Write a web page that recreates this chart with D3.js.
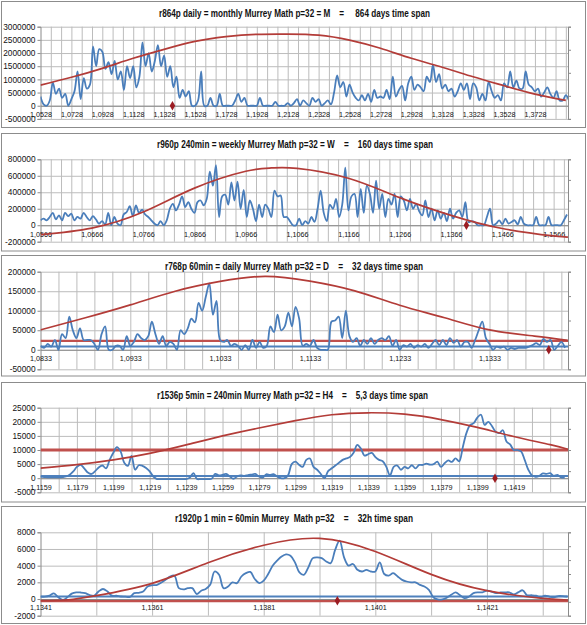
<!DOCTYPE html>
<html>
<head>
<meta charset="utf-8">
<script src="https://cdn.jsdelivr.net/npm/d3@7"></script>
<style>
  body { margin: 0; background: #fff; }
  svg { display: block; }
  text { font-family: "Liberation Sans", Arial, sans-serif; fill: #111; }
</style>
</head>
<body>
<svg id="chart" width="587" height="625"></svg>
<script>
// ---------- panel 1 : r864p daily ----------
const p1Title = "r864p daily = monthly Murrey Math p=32 = M    =     864 days time span";
const p1Start = 1.0528, p1Step = 0.002, p1End = 1.3942;
const p1Volume = [350000, 50000, 0, 200000, 880000, 450000, 650000, 300000, 450000, 0,
  250000, 550000, 1300000, 250000, 1050000, 650000, 800000,
  2250000, 1500000, 2150000, 2050000, 1400000, 1650000, 1200000, 1700000, 1000000, 1300000,
  600000, 1500000, 1050000, 1500000, 700000, 1100000, 2400000, 1500000, 2000000, 1300000, 1700000, 2300000,
  1500000, 1900000, 1100000, 1500000, 700000, 1100000, 300000, 600000, 350000, 550000, 0, 0,
  200000, 1300000, 0, 0, 300000, 0, 0, 450000, 0,
  0, 0, 0, 200000, 450000, 150000, 300000, 0, 0, 0,
  0, 300000, 0, 0, 0, 0, 150000, 0, 0, 0, 100000, 0,
  100000, 250000, 0, 200000, 100000, 0, 300000, 150000, 250000, 0, 100000,
  200000, 50000, 500000, 1150000, 700000, 900000, 350000, 800000, 500000, 300000, 200000, 400000,
  200000, 450000, 150000, 600000, 300000, 350000, 300000, 600000, 250000, 1100000, 350000, 600000,
  750000, 200000, 850000, 1100000, 600000, 800000, 700000, 550000, 1100000, 900000, 1550000, 900000,
  1200000, 650000, 800000, 550000, 650000, 350000, 550000, 850000, 600000, 850000, 250000, 850000,
  700000, 200000, 450000, 200000, 900000, 550000, 300000, 400000, 200000, 850000, 700000, 1300000,
  700000, 950000, 650000, 650000, 1300000, 800000, 700000, 550000, 650000, 350000, 500000, 700000,
  450000, 300000, 550000, 200000, 200000, 400000, 200000];
const p1CurveX = [1.0528, 1.0728, 1.0928, 1.1128, 1.1328, 1.1528, 1.1728, 1.1928, 1.2128,
  1.2328, 1.2528, 1.2728, 1.2928, 1.3128, 1.3328, 1.3528, 1.3728, 1.3928];
const p1CurveY = [780000, 1080000, 1420000, 1800000, 2140000, 2440000, 2620000, 2710000, 2720000,
  2680000, 2490000, 2180000, 1800000, 1460000, 1100000, 760000, 440000, 200000];
const p1YTicks = [-500000, 0, 500000, 1000000, 1500000, 2000000, 2500000, 3000000];
const p1XLabels = ["1,0528", "1,0728", "1,0928", "1,1128", "1,1328", "1,1528", "1,1728", "1,1928", "1,2128",
  "1,2328", "1,2528", "1,2728", "1,2928", "1,3128", "1,3328", "1,3528", "1,3728"];
const p1Mark = [1.1382, 0];

// ---------- panel 2 : r960p 240min ----------
const p2Title = "r960p 240min = weekly Murrey Math p=32 = W    =    160 days time span";
const p2Start = 1.0566, p2Step = 0.0006, p2End = 1.1594;
const p2Volume = [60000, 80000, 60000, 100000, 150000, 70000, 120000, 60000, 150000, 110000,
  140000, 60000, 100000, 80000, 150000, 100000, 60000, 110000, 70000, 20000,
  50000, 10000, 150000, 0, 100000, 20000, 0, 130000, 160000, 230000,
  110000, 240000, 150000, 190000, 130000, 100000, 60000, 20000, 0, 50000,
  0, 60000, 200000, 260000, 180000, 250000, 350000, 220000, 280000, 200000,
  150000, 280000, 300000, 240000, 320000, 650000, 480000, 730000, 100000, 350000,
  370000, 250000, 520000, 300000, 530000, 200000, 430000, 100000, 300000, 200000,
  50000, 250000, 100000, 250000, 200000, 100000, 420000, 350000, 360000, 100000,
  100000, 50000, 0, 0, 80000, 0, 50000, 20000, 100000, 40000,
  200000, 420000, 150000, 50000, 250000, 200000, 320000, 100000, 250000, 700000,
  180000, 350000, 380000, 100000, 440000, 150000, 480000, 380000, 150000, 540000,
  200000, 380000, 100000, 320000, 250000, 380000, 100000, 350000, 300000, 180000,
  320000, 200000, 260000, 170000, 120000, 300000, 100000, 200000, 60000, 180000,
  80000, 150000, 50000, 200000, 80000, 150000, 180000, 100000, 280000, 40000,
  50000, 40000, 0, 0, 0, 100000, 200000, 0, 20000, 60000,
  10000, 80000, 20000, 40000, 60000, 10000, 100000, 20000, 0, 0,
  0, 100000, 0, 0, 0, 100000, 0, 0, 0, 0,
  60000, 130000];
const p2CurveX = [1.0566, 1.0666, 1.0766, 1.0866, 1.0966, 1.1016, 1.1066, 1.1166, 1.1266, 1.1366, 1.1466, 1.1566, 1.1594];
const p2CurveY = [-115000, -35000, 160000, 450000, 655000, 695000, 690000, 570000, 335000, 120000, -40000, -130000, -143000];
const p2YTicks = [-200000, 0, 200000, 400000, 600000, 800000];
const p2XLabels = ["1,0566", "1,0666", "1,0766", "1,0866", "1,0966", "1,1066", "1,1166", "1,1266", "1,1366", "1,1466", "1,1566"];
const p2Mark = [1.1396, 0];

// ---------- panel 3 : r768p 60min ----------
const p3Title = "r768p 60min = daily Murrey Math p=32 = D    =    32 days time span";
const p3Start = 1.0833, p3Step = 0.0004, p3End = 1.14204;
const p3Volume = [10000, 5000, 15000, 8000, 25000, 0, 40000, 30000, 85000, 50000,
  30000, 55000, 25000, 25000, 25000, 15000, 0, 40000, 60000, 0,
  0, 10000, 10000, 0, 35000, 10000, 20000, 40000, 30000, 25000,
  35000, 72000, 40000, 15000, 35000, 10000, 20000, 15000, 0, 50000,
  40000, 55000, 80000, 70000, 120000, 100000, 135000, 170000, 90000, 125000,
  25000, 20000, 25000, 10000, 15000, 10000, 0, 12000, 0, 25000,
  5000, 20000, 5000, 10000, 60000, 45000, 90000, 50000, 60000, 95000,
  60000, 110000, 80000, 10000, 15000, 10000, 25000, 5000, 0, 0,
  0, 72000, 75000, 85000, 30000, 100000, 35000, 20000, 30000, 10000,
  25000, 15000, 30000, 15000, 25000, 30000, 25000, 35000, 10000, 25000,
  0, 12000, 8000, 15000, 5000, 12000, 8000, 15000, 5000, 15000,
  25000, 12000, 25000, 12000, 30000, 18000, 25000, 8000, 20000, 20000,
  5000, 25000, 50000, 72000, 30000, 15000, 0, 8000, 5000, 8000,
  0, 5000, 2000, 5000, 5000, 5000, 8000, 12000, 17000, 12000,
  28000, 20000, 25000, 0, 10000, 20000, 5000];
const p3CurveX = [1.0833, 1.0883, 1.0933, 1.0983, 1.1033, 1.1083, 1.1133, 1.1183, 1.1233, 1.1283, 1.1333, 1.1383, 1.1420];
const p3CurveY = [51000, 82000, 115000, 150000, 175000, 188000, 176000, 151000, 114000, 82000, 51000, 35000, 24000];
const p3RedLevel = 23000, p3BlueLevel = 8500;
const p3YTicks = [-50000, 0, 50000, 100000, 150000, 200000];
const p3XLabels = ["1,0833", "1,0933", "1,1033", "1,1133", "1,1233", "1,1333"];
const p3Mark = [1.1399, 0];

// ---------- panel 4 : r1536p 5min ----------
const p4Title = "r1536p 5min = 240min Murrey Math p=32 = H4    =    5,3 days time span";
const p4Start = 1.1159, p4Step = 0.0002, p4End = 1.14488;
const p4Volume = [500, 400, 300, 300, 300, 300, 400, 600, 1200, 2400,
  4000, 4700, 3500, 2000, 1500, 2500, 3800, 4500, 3500, 6500,
  9000, 11000, 9500, 5500, 4400, 7900, 3000, 4600, 4400, 3600,
  2400, 600, -300, -300, -300, -300, -300, -300, -300, -300,
  -300, 200, 1800, -300, -300, -300, -300, -200, 1500, 1000,
  1200, 1500, 600, -200, 600, 1000, 800, 1100, 1300, 1500,
  600, 200, 1400, 1200, 1400, 600, 0, 0, 1000, 5000,
  5900, 4800, 4000, 6500, 7000, 4000, 3000, 1500, 0, 2500,
  3500, 4500, 5500, 6500, 7000, 7500, 9000, 11800, 10500, 8000,
  8500, 9000, 7500, 6500, 6000, 4000, 1000, 4000, 4500, 3000,
  4000, 3500, 4600, 3500, 4700, 4700, 5200, 4800, 5000, 5900,
  4000, 5300, 6300, 5800, 7000, 6000, 11000, 16000, 18800, 19500,
  21500, 22500, 18900, 20000, 18500, 16500, 16000, 17000, 13000, 12000,
  10000, 10000, 9500, 6500, 3000, 1000, 500, 800, 1700, 1500,
  1800, 800, 1200, 300, 300];
const p4CurveX = [1.1159, 1.1179, 1.1199, 1.1219, 1.1239, 1.1259, 1.1279, 1.1299, 1.1319, 1.1339,
  1.1359, 1.1379, 1.1399, 1.1419, 1.1439, 1.14488];
const p4CurveY = [3550, 4800, 6500, 8800, 11800, 15000, 17800, 20400, 22500, 23200,
  22700, 20800, 18000, 14800, 11900, 10250];
const p4RedLevel = 10000, p4BlueLevel = 800;
const p4YTicks = [-5000, 0, 5000, 10000, 15000, 20000, 25000];
const p4XLabels = ["1,1159", "1,1179", "1,1199", "1,1219", "1,1239", "1,1259", "1,1279",
  "1,1299", "1,1319", "1,1339", "1,1359", "1,1379", "1,1399", "1,1419"];
const p4Mark = [1.14087, 0];

// ---------- panel 5 : r1920p 1 min ----------
const p5Title = "r1920p 1 min = 60min Murrey  Math p=32    =    32h time span";
const p5Start = 1.1341, p5Step = 0.00008, p5End = 1.143553;
const p5Volume = [280, 280, 400, 680, 200, -100, 200, 650, 800, 780,
  700, 480, 400, 900, 1200, 900, 400, 400, 300, 280,
  250, 700, 750, 900, 1500, 1650, 1680, 1950, 2300, 2680,
  2800, 1300, 1150, 1300, 1300, 600, 1000, 1200, 1700, 3300,
  2900, 1300, 1500, 2000, 1900, 2700, 3100, 3250, 2400, 1900,
  2200, 3000, 4000, 4600, 5100, 5360, 5200, 4400, 3200, 2900,
  3800, 4900, 5000, 4900, 4500, 4300, 5900, 7000, 5000, 4000,
  4200, 3500, 3300, 3500, 3300, 3300, 4400, 3000, 2800, 3100,
  2700, 2300, 2100, 2000, 2000, 1700, 1500, 1100, 200, -50,
  -50, 150, 500, 800, 450, 100, 300, 700, 800, 800,
  1000, 900, 700, 800, 800, 800, 550, 800, 1050, 450,
  450, 400, 200, 400, 300, 200, 350, 350, 300];
const p5CurveX = [1.1341, 1.1346, 1.1351, 1.1361, 1.1371, 1.1381, 1.1391, 1.1401, 1.1411, 1.1421, 1.1431, 1.14355];
const p5CurveY = [-200, -100, 400, 1880, 4350, 6450, 7270, 5700, 2950, 1000, 80, -120];
const p5RedLevel = -250, p5BlueLevel = 300;
const p5YTicks = [-2000, 0, 2000, 4000, 6000, 8000];
const p5XLabels = ["1,1341", "1,1361", "1,1381", "1,1401", "1,1421"];
const p5Mark = [1.13942, -200];

// ---------- layout ----------
const BLUE = "#4a7ebb", RED = "#b33c38", LEVEL_RED = "#c0504d", LEVEL_BLUE = "#4f81bd";
const GRID = "#bcbcbc", AXIS = "#8a8a8a";
const left = 40.5, right = 568;

const panels = [
  { title: p1Title, titleX: 294.5, titleY: 17, titleW: 271, frame: [1, 127],
    start: p1Start, step: p1Step, end: p1End, volume: p1Volume, curveX: p1CurveX, curveY: p1CurveY,
    yTicks: p1YTicks, yRange: [118.9, 26.7], xLabels: p1XLabels, gridStep: 0.02 / 3,
    levels: [], mark: p1Mark, y2Count: 4 },
  { title: p2Title, titleX: 295, titleY: 148, titleW: 276, frame: [133, 250.5],
    start: p2Start, step: p2Step, end: p2End, volume: p2Volume, curveX: p2CurveX, curveY: p2CurveY,
    yTicks: p2YTicks, yRange: [241.7, 159.3], xLabels: p2XLabels, gridStep: 0.002,
    levels: [], mark: p2Mark, y2Count: 4 },
  { title: p3Title, titleX: 294, titleY: 270, titleW: 258, frame: [255, 375.5],
    start: p3Start, step: p3Step, end: p3End, volume: p3Volume, curveX: p3CurveX, curveY: p3CurveY,
    yTicks: p3YTicks, yRange: [369.3, 271.7], xLabels: p3XLabels, gridStep: 0.002,
    levels: [{ v: p3BlueLevel, c: LEVEL_BLUE, w: 2 }, { v: p3RedLevel, c: LEVEL_RED, w: 2.2 }],
    mark: p3Mark, y2Count: 4 },
  { title: p4Title, titleX: 292.5, titleY: 399, titleW: 271, frame: [382, 501.5],
    start: p4Start, step: p4Step, end: p4End, volume: p4Volume, curveX: p4CurveX, curveY: p4CurveY,
    yTicks: p4YTicks, yRange: [492.3, 407.7], xLabels: p4XLabels, gridStep: 0.001,
    levels: [{ v: p4BlueLevel, c: LEVEL_BLUE, w: 2 }, { v: p4RedLevel, c: LEVEL_RED, w: 2.8 }],
    mark: p4Mark, y2Count: 4 },
  { title: p5Title, titleX: 294, titleY: 522, titleW: 238, frame: [506, 623],
    start: p5Start, step: p5Step, end: p5End, volume: p5Volume, curveX: p5CurveX, curveY: p5CurveY,
    yTicks: p5YTicks, yRange: [615.7, 532.3], xLabels: p5XLabels, gridStep: 0.001,
    levels: [{ v: p5BlueLevel, c: LEVEL_BLUE, w: 2.2 }, { v: p5RedLevel, c: LEVEL_RED, w: 2.2 }],
    mark: p5Mark, y2Count: 6 }
];

const svg = d3.select("#chart");
svg.append("rect").attr("width", 587).attr("height", 625).attr("fill", "#fff");

panels.forEach((p, idx) => drawPanel(p, idx));

function drawPanel(p, idx) {
  const g = svg.append("g");
  const [bottom, top] = p.yRange;

  g.append("rect")
    .attr("x", 1.5).attr("y", p.frame[0] + 0.5)
    .attr("width", 584).attr("height", p.frame[1] - p.frame[0])
    .attr("fill", "#fff").attr("stroke", "#8c8c8c");

  const x = d3.scaleLinear().domain([p.start, p.end]).range([left, right]);
  const y = d3.scaleLinear().domain(d3.extent(p.yTicks)).range(p.yRange);

  // horizontal gridlines
  const hg = g.append("g").call(d3.axisLeft(y).tickValues(p.yTicks).tickSize(-(right - left)).tickFormat(""))
    .attr("transform", `translate(${left},0)`);
  hg.select(".domain").remove();
  hg.selectAll("line").attr("stroke", GRID);

  // vertical gridlines
  const nGrid = Math.floor((p.end - p.start) / p.gridStep + 1e-6) + 1;
  const vgVals = d3.range(1, nGrid).map(k => p.start + k * p.gridStep);
  const vg = g.append("g").attr("transform", `translate(0,${bottom})`)
    .call(d3.axisBottom(x).tickValues(vgVals).tickSize(-(bottom - top)).tickFormat(""));
  vg.select(".domain").remove();
  vg.selectAll("line").attr("stroke", GRID);

  // left axis with labels
  const ya = g.append("g").attr("transform", `translate(${left},0)`)
    .call(d3.axisLeft(y).tickValues(p.yTicks).tickSize(3).tickPadding(2).tickFormat(d => String(d)));
  ya.select(".domain").attr("stroke", AXIS);
  ya.selectAll("line").attr("stroke", AXIS);
  ya.selectAll("text").attr("font-size", 8.3).attr("fill", "#111");

  // right secondary axis (unlabelled)
  const y2 = d3.scaleLinear().domain([0, p.y2Count]).range(p.yRange);
  const ya2 = g.append("g").attr("transform", `translate(${right},0)`)
    .call(d3.axisRight(y2).tickValues(d3.range(p.y2Count + 1)).tickSize(3).tickFormat(""));
  ya2.select(".domain").attr("stroke", AXIS);
  ya2.selectAll("line").attr("stroke", AXIS);

  // category axis at zero
  const labelVals = p.xLabels.map(s => +s.replace(",", "."));
  const xa = g.append("g").attr("transform", `translate(0,${y(0)})`)
    .call(d3.axisBottom(x).tickValues(labelVals).tickSize(0).tickPadding(6.3)
      .tickFormat((d, i) => p.xLabels[i]));
  xa.select(".domain").attr("stroke", AXIS);
  xa.selectAll("text").attr("font-size", 7.2).attr("fill", "#111");

  // clip for series
  const clipId = "clip" + idx;
  svg.append("clipPath").attr("id", clipId).append("rect")
    .attr("x", left).attr("y", top - 2).attr("width", right - left).attr("height", bottom - top + 4);
  const s = g.append("g").attr("clip-path", `url(#${clipId})`);

  // level lines
  p.levels.forEach(l => {
    s.append("path")
      .datum([[p.start, l.v], [p.end, l.v]])
      .attr("fill", "none").attr("stroke", l.c).attr("stroke-width", l.w)
      .attr("d", d3.line().x(d => x(d[0])).y(d => y(d[1])));
  });

  // volume series
  const volData = p.volume.map((v, i) => [p.start + i * p.step, v]);
  const line = d3.line().x(d => x(d[0])).y(d => y(d[1])).curve(d3.curveCatmullRom.alpha(0.5));
  s.append("path").datum(volData)
    .attr("fill", "none").attr("stroke", BLUE).attr("stroke-width", 1.8)
    .attr("stroke-linejoin", "round").attr("d", line);

  // smooth red curve
  const curveData = p.curveX.map((cx, i) => [cx, p.curveY[i]]);
  s.append("path").datum(curveData)
    .attr("fill", "none").attr("stroke", RED).attr("stroke-width", 1.7)
    .attr("d", d3.line().x(d => x(d[0])).y(d => y(d[1])).curve(d3.curveNatural));

  // current price marker
  g.append("path")
    .attr("d", d3.symbol(d3.symbolDiamond, 26)())
    .attr("transform", `translate(${x(p.mark[0])},${y(p.mark[1])})`)
    .attr("fill", "#9b1c22");

  // title
  g.append("text")
    .attr("x", p.titleX).attr("y", p.titleY)
    .attr("text-anchor", "middle")
    .attr("font-size", 10.5).attr("font-weight", "bold")
    .attr("textLength", p.titleW).attr("lengthAdjust", "spacingAndGlyphs")
    .style("white-space", "pre")
    .text(p.title);
}
</script>
</body>
</html>
